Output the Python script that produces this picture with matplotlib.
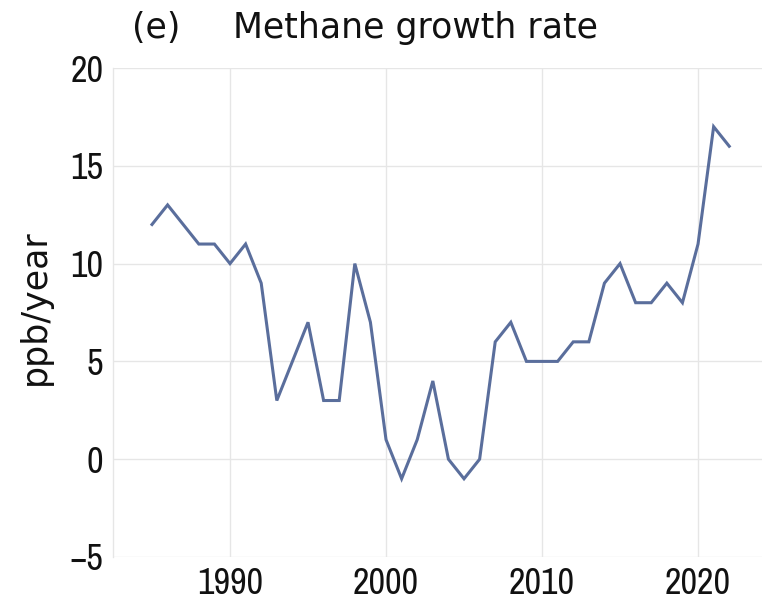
import matplotlib
matplotlib.use("Agg")
import matplotlib.pyplot as plt

years = list(range(1985, 2023))
growth = [12, 13, 12, 11, 11, 10, 11, 9, 3, 5,
          7, 3, 3, 10, 7, 1, -1, 1, 4, 0,
          -1, 0, 6, 7, 5, 5, 5, 6, 6, 9,
          10, 8, 8, 9, 8, 11, 17, 16]
xticks = [1990, 2000, 2010, 2020]
yticks = [-5, 0, 5, 10, 15, 20]

narrow = ["Archivo Narrow", "DejaVu Sans"]

fig = plt.figure(figsize=(7.66, 6.02), dpi=100)
ax = fig.add_axes([113 / 766, 1 - 557 / 602, 649 / 766, 489 / 602])

ax.plot(years, growth, color="#5a6e9c", linewidth=2.2, solid_joinstyle="miter")

ax.set_xlim(1982.5, 2024.1)
ax.set_ylim(-5, 20)
ax.set_xticks(xticks)
ax.set_yticks(yticks)
ax.set_yticklabels(["\u22125" if v < 0 else str(v) for v in yticks])
ax.grid(True, color="#e6e6e6", linewidth=1.0)
ax.set_axisbelow(True)
for side in ["top", "right", "bottom"]:
    ax.spines[side].set_visible(False)
ax.spines["left"].set_color("#e6e6e6")
ax.spines["left"].set_linewidth(1.0)
ax.tick_params(length=0, pad=7)
for lab in ax.get_xticklabels() + ax.get_yticklabels():
    lab.set_family(narrow)
    lab.set_fontsize(26)
    lab.set_weight("medium")
    lab.set_color("#111111")

ax.set_ylabel("ppb/year", fontsize=25, family="DejaVu Sans", color="#111111")
ax.yaxis.set_label_coords(-0.094, 0.51)

fig.text(132 / 766, 1 - 38 / 602, "(e)", fontsize=25, family="DejaVu Sans",
         color="#111111", va="baseline", ha="left")
fig.text(233 / 766, 1 - 38 / 602, "Methane growth rate", fontsize=25,
         family="DejaVu Sans", color="#111111", va="baseline", ha="left")

fig.savefig("out.png", dpi=100)
